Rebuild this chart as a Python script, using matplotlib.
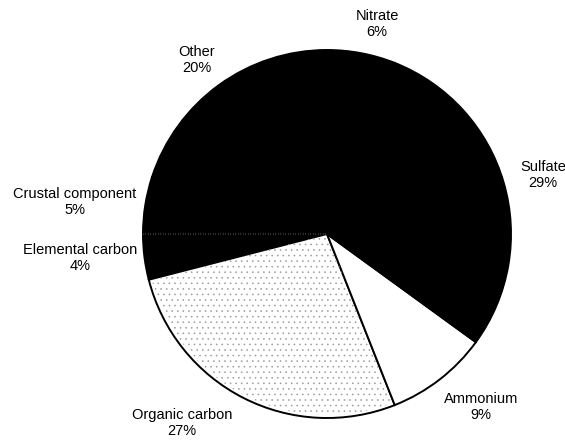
import matplotlib
matplotlib.use("Agg")
import matplotlib.pyplot as plt
from matplotlib.patches import Wedge

# PM2.5 composition shares (%), listed counter-clockwise from 12 o'clock
components = ["Other", "Crustal component", "Elemental carbon", "Organic carbon",
              "Ammonium", "Sulfate", "Nitrate"]
shares = [20, 5, 4, 27, 9, 29, 6]
fills = ["black", "black", "black", "white", "white", "black", "black"]

W, H = 565, 443
plt.rcParams["hatch.linewidth"] = 0.4
fig = plt.figure(figsize=(W / 100, H / 100), dpi=100)
ax = fig.add_axes([0, 0, 1, 1])

cx, cy, r = 327, H - 234, 184

wedges, _ = ax.pie(shares, colors=fills, startangle=90, counterclock=True,
                   center=(cx, cy), radius=r, frame=True,
                   wedgeprops=dict(edgecolor="black", linewidth=1.4))

# stippled texture for organic carbon
oc = wedges[components.index("Organic carbon")]
stip = Wedge((cx, cy), r * 0.985, oc.theta1 + 0.5, oc.theta2 - 0.5,
             facecolor="none", edgecolor="#9a9a9a", hatch="...", linewidth=0)
ax.add_patch(stip)

# faint seam between crustal component and elemental carbon
ec = wedges[components.index("Elemental carbon")]
seam = Wedge((cx, cy), r, ec.theta1, ec.theta1 + 0.01, facecolor="none",
             edgecolor="#8a8a8a", linewidth=0.6, linestyle=(0, (1, 5)))
ax.add_patch(seam)

ax.set_xlim(0, W)
ax.set_ylim(0, H)
ax.set_aspect("equal")
ax.axis("off")

# label anchor points (pixels from top-left)
label_pos = {
    "Other": (197, 60),
    "Crustal component": (75, 202),
    "Elemental carbon": (80, 258),
    "Organic carbon": (182, 423),
    "Ammonium": (481, 407),
    "Sulfate": (543, 175),
    "Nitrate": (377, 24),
}
for name, val in zip(components, shares):
    x, y = label_pos[name]
    ax.text(x, H - y, f"{name}\n{val}%", ha="center", va="center",
            fontsize=10.5, family="Liberation Sans", linespacing=1.25,
            color="black")

fig.savefig("out.png", dpi=100)
